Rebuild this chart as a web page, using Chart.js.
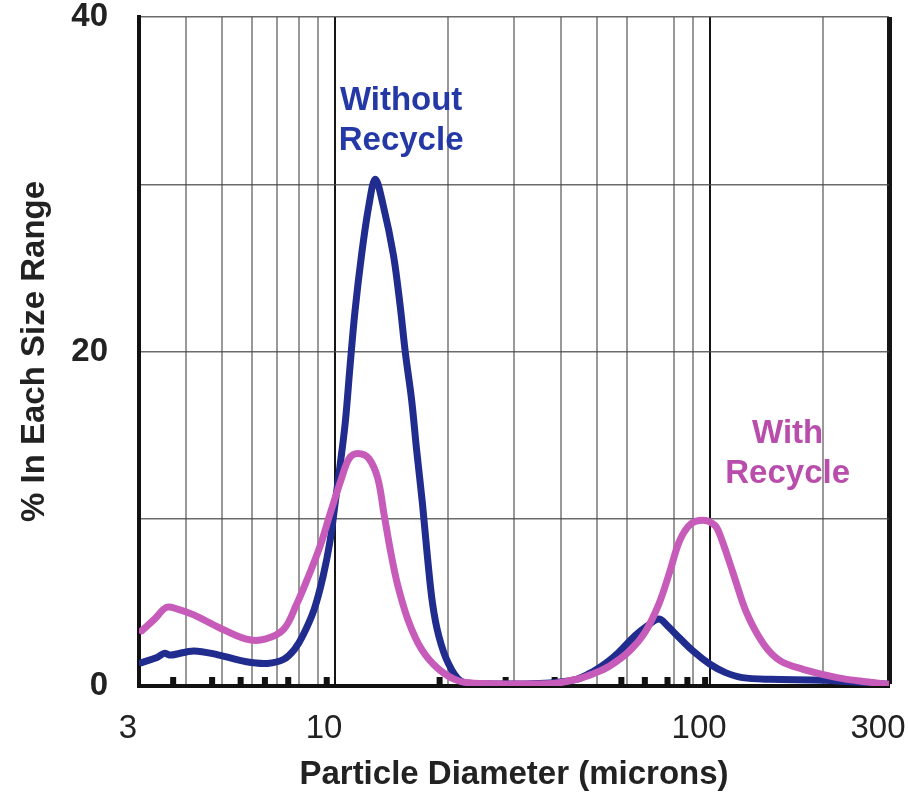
<!DOCTYPE html>
<html>
<head>
<meta charset="utf-8">
<script src="https://cdn.jsdelivr.net/npm/chart.js@4.4.1/dist/chart.umd.min.js"></script>
<style>
  html, body { margin: 0; padding: 0; background: #fff; }
  #wrap { width: 908px; height: 797px; }
</style>
</head>
<body>
<div id="wrap"><canvas id="psd-chart" width="908" height="797"></canvas></div>
<script>
// particle size distribution, % of mass per size range
const withoutSizes = [3.05, 3.35, 3.5, 3.65, 4.2, 4.9, 5.8, 6.6, 7.3, 7.8, 8.2, 8.8, 9.3, 9.7, 10.0, 10.3, 10.65, 10.95, 11.3, 11.77, 12.3, 12.8, 13.45, 14.3, 14.9, 15.4, 16.0, 16.5, 17.1, 17.6, 18.2, 18.9, 20.0, 21.6, 24, 35, 44, 49, 53, 57, 63, 68, 73, 77, 81, 90, 100, 110, 122, 145, 200, 300];
const withoutPct   = [1.4, 1.7, 1.95, 1.85, 2.1, 1.85, 1.45, 1.35, 1.6, 2.2, 3.0, 4.6, 6.6, 8.7, 10.9, 13.1, 15.8, 19.0, 22.4, 25.8, 28.7, 30.3, 28.7, 25.8, 22.8, 19.9, 17.1, 14.1, 10.9, 7.9, 4.9, 3.0, 1.4, 0.3, 0.15, 0.15, 0.4, 0.9, 1.4, 2.0, 3.0, 3.6, 4.0, 3.6, 3.1, 2.1, 1.3, 0.8, 0.5, 0.4, 0.35, 0.1];

const withSizes = [3.05, 3.3, 3.55, 3.8, 4.2, 4.9, 5.8, 6.5, 7.3, 7.9, 8.4, 9.1, 9.7, 10.4, 10.9, 11.5, 12.3, 13.0, 13.5, 14.1, 14.7, 15.65, 17.0, 18.9, 21.4, 25, 38, 44, 49, 54, 61, 67, 73, 78, 83, 89, 97, 103, 106, 115, 125, 139, 154, 177, 218, 260, 300];
const withPct   = [3.3, 4.0, 4.7, 4.6, 4.25, 3.5, 2.8, 2.8, 3.4, 4.9, 6.3, 8.3, 10.3, 12.4, 13.6, 13.9, 13.6, 12.4, 10.3, 7.9, 6.0, 3.95, 2.2, 1.0, 0.3, 0.15, 0.15, 0.4, 0.75, 1.2, 2.1, 3.2, 4.9, 6.8, 8.7, 9.7, 9.9, 9.6, 9.1, 6.8, 4.4, 2.5, 1.5, 1.0, 0.5, 0.25, 0.1];

// axis ticks
const gridSizes = [3, 4, 5, 6, 7, 8, 9, 10, 20, 30, 40, 50, 60, 80, 90, 100, 200, 300];
const sizeLabels = [3, 10, 100, 300];
const pctLabels = [0, 20, 40];
const tickMarks = [3.7, 4.7, 5.6, 6.5, 7.5, 9.5, 19, 28.5, 38.5, 58, 67, 77, 87, 97];

const FONT = "'Liberation Sans', Arial, sans-serif";
const BLUE = '#202c8e';
const PINK = '#c75bb9';

const toPoints = (xs, ys) => xs.map((x, i) => ({ x: x, y: ys[i] }));

// little square tick marks on the base line + the two curve captions
const decorations = {
    id: 'decorations',
    beforeDatasetsDraw(chart) {
        const { ctx, scales: { x }, chartArea } = chart;
        ctx.save();
        ctx.fillStyle = '#111';
        tickMarks.forEach(v => {
            const px = x.getPixelForValue(v);
            ctx.fillRect(px - 3, chartArea.bottom - 9, 6, 7);
        });
        ctx.restore();
    },
    afterDatasetsDraw(chart) {
        const { ctx, scales: { x, y } } = chart;
        const caption = (lines, xv, yv, color) => {
            ctx.save();
            ctx.font = 'bold 33px ' + FONT;
            ctx.fillStyle = color;
            ctx.textAlign = 'center';
            ctx.textBaseline = 'middle';
            const px = x.getPixelForValue(xv);
            const py = y.getPixelForValue(yv);
            lines.forEach((t, i) => ctx.fillText(t, px, py + i * 40));
            ctx.restore();
        };
        caption(['Without', 'Recycle'], 15.0, 35.0, '#2539a6');
        caption(['With', 'Recycle'], 161, 15.1, '#b94dac');
    }
};

new Chart(document.getElementById('psd-chart'), {
    type: 'scatter',
    data: {
        datasets: [
            {
                label: 'Without Recycle',
                data: toPoints(withoutSizes, withoutPct),
                borderColor: BLUE,
                order: 2
            },
            {
                label: 'With Recycle',
                data: toPoints(withSizes, withPct),
                borderColor: PINK,
                order: 1
            }
        ]
    },
    options: {
        responsive: false,
        animation: false,
        devicePixelRatio: 1,
        layout: { autoPadding: false, padding: { top: 17, right: 19, left: 0, bottom: 0 } },
        elements: {
            point: { radius: 0, hoverRadius: 0 },
            line: {
                borderWidth: 7,
                tension: 0.35,
                borderCapStyle: 'round',
                borderJoinStyle: 'round',
                fill: false
            }
        },
        showLine: true,
        plugins: {
            legend: { display: false },
            tooltip: { enabled: false }
        },
        scales: {
            x: {
                type: 'logarithmic',
                min: 3,
                max: 300,
                afterBuildTicks: scale => {
                    scale.ticks = gridSizes.map(v => ({ value: v }));
                },
                afterFit: scale => {
                    scale.height = 111;
                    scale.paddingLeft = 0;
                    scale.paddingRight = 0;
                },
                border: { display: true, color: '#111', width: 4 },
                grid: {
                    drawTicks: false,
                    color: ctx => {
                        const v = ctx.tick.value;
                        if (v === 3) return 'rgba(0,0,0,0)';
                        if (v === 10 || v === 100 || v === 300) return '#151515';
                        return 'rgba(85,85,85,0.6)';
                    },
                    lineWidth: ctx => ctx.tick.value === 300 ? 5 : 2
                },
                ticks: {
                    autoSkip: false,
                    maxRotation: 0,
                    padding: 23,
                    labelOffset: -11,
                    color: '#222',
                    font: { family: FONT, size: 33 },
                    callback: v => sizeLabels.includes(v) ? String(v) : ''
                },
                title: {
                    display: true,
                    text: 'Particle Diameter (microns)',
                    color: '#222',
                    font: { family: FONT, size: 33, weight: 'bold' },
                    padding: { top: 0, bottom: 2 }
                }
            },
            y: {
                min: 0,
                max: 40,
                afterFit: scale => {
                    scale.width = 139;
                    scale.paddingTop = 0;
                    scale.paddingBottom = 0;
                },
                border: { display: true, color: '#111', width: 4 },
                grid: {
                    drawTicks: false,
                    color: ctx => ctx.tick.value === 0 ? 'rgba(0,0,0,0)' : 'rgba(70,70,70,0.8)',
                    lineWidth: 1.5
                },
                ticks: {
                    stepSize: 10,
                    padding: 31,
                    color: '#222',
                    font: { family: FONT, size: 33, weight: 'bold' },
                    callback: v => pctLabels.includes(v) ? String(v) : ''
                },
                title: {
                    display: true,
                    text: '% In Each Size Range',
                    color: '#222',
                    font: { family: FONT, size: 33, weight: 'bold' },
                    padding: { top: 15, bottom: 0 }
                }
            }
        }
    },
    plugins: [decorations]
});
</script>
</body>
</html>
